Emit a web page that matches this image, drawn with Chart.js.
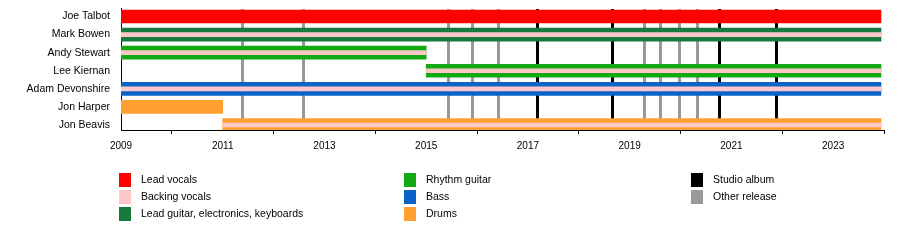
<!DOCTYPE html>
<html>
<head>
<meta charset="utf-8">
<script src="https://cdn.jsdelivr.net/npm/chart.js@4"></script>
<style>
  html, body { margin: 0; padding: 0; background: #fff; }
  canvas { display: block; }
</style>
</head>
<body>
<canvas id="chart" width="900" height="250"></canvas>
<script>
// メンバー（上から順に）
const members = ["Joe Talbot", "Mark Bowen", "Andy Stewart", "Lee Kiernan", "Adam Devonshire", "Jon Harper", "Jon Beavis"];
const endDate = 2023.94;

// 担当期間 [行, 開始, 終了]
const leadVocals = [[0, 2009, endDate]];
const leadGuitar = [[1, 2009, endDate]];
const rhythmGuitar = [[2, 2009, 2015.0], [3, 2015.0, endDate]];
const bass = [[4, 2009, endDate]];
const drums = [[5, 2009, 2011.0], [6, 2011.0, endDate]];
const backingVocals = [[1, 2009, endDate], [2, 2009, 2015.0], [3, 2015.0, endDate], [4, 2009, endDate], [6, 2011.0, endDate]];

// リリース
const studioAlbums = [2017.18, 2018.66, 2020.75, 2021.88];
const otherReleases = [2011.38, 2012.58, 2015.42, 2015.91, 2016.42, 2019.29, 2019.6, 2019.97, 2020.32];

// 軸
const xMin = 2009;
const xMax = 2024;

// 凡例
const legendColumns = [
  [["Lead vocals", "#ff0000"], ["Backing vocals", "#ffc8c8"], ["Lead guitar, electronics, keyboards", "#157a3c"]],
  [["Rhythm guitar", "#12aa12"], ["Bass", "#0a64c8"], ["Drums", "#ffa030"]],
  [["Studio album", "#000000"], ["Other release", "#999999"]],
];

const FONT = '"Liberation Sans", Arial, sans-serif';

function toBars(periods) {
  return periods.map((p) => ({ x: [p[1], p[2]], y: p[0] }));
}

function roleDataset(label, periods, color, thickness, order) {
  return {
    label: label,
    data: toBars(periods),
    backgroundColor: color,
    borderWidth: 0,
    barThickness: thickness,
    grouped: false,
    order: order,
  };
}

// リリースの縦線を描く
const releaseLines = {
  id: "releaseLines",
  beforeDatasetsDraw(chart) {
    const { ctx, chartArea, scales } = chart;
    const x = scales.x;
    ctx.save();
    ctx.lineWidth = 3;
    const drawSet = (list, color) => {
      ctx.strokeStyle = color;
      for (let v of list) {
        const px = Math.round(x.getPixelForValue(v)) + 0.5;
        ctx.beginPath();
        ctx.moveTo(px, chartArea.top + 1);
        ctx.lineTo(px, chartArea.bottom);
        ctx.stroke();
      }
    };
    drawSet(otherReleases, "#999999");
    drawSet(studioAlbums, "#000000");
    ctx.restore();
  },
};

// 凡例を描く
const bottomLegend = {
  id: "bottomLegend",
  afterDraw(chart) {
    const ctx = chart.ctx;
    const colX = [119, 404, 691];
    const rowY = [180, 197, 214];
    ctx.save();
    ctx.font = "10.5px " + FONT;
    ctx.textBaseline = "middle";
    ctx.textAlign = "left";
    for (let c = 0; c < legendColumns.length; c++) {
      const items = legendColumns[c];
      for (let r = 0; r < items.length; r++) {
        const [text, color] = items[r];
        ctx.fillStyle = color;
        ctx.fillRect(colX[c], rowY[r] - 7, 12, 14);
        ctx.fillStyle = "#000";
        ctx.fillText(text, colX[c] + 22, rowY[r]);
      }
    }
    ctx.restore();
  },
};

const ctx = document.getElementById("chart").getContext("2d");
new Chart(ctx, {
  type: "bar",
  data: {
    datasets: [
      roleDataset("Backing vocals", backingVocals, "#ffc8c8", 4, 0),
      roleDataset("Lead vocals", leadVocals, "#ff0000", 13, 1),
      roleDataset("Lead guitar, electronics, keyboards", leadGuitar, "#157a3c", 13, 1),
      roleDataset("Rhythm guitar", rhythmGuitar, "#12aa12", 13, 1),
      roleDataset("Bass", bass, "#0a64c8", 13, 1),
      roleDataset("Drums", drums, "#ffa030", 13, 1),
    ],
  },
  options: {
    indexAxis: "y",
    responsive: false,
    animation: false,
    layout: { padding: { top: 8, right: 16, left: 0, bottom: 0 } },
    plugins: {
      legend: { display: false },
      tooltip: { enabled: false },
    },
    scales: {
      x: {
        type: "linear",
        min: xMin,
        max: xMax,
        afterFit(scale) {
          scale.height = 120;
        },
        grid: {
          drawOnChartArea: false,
          drawTicks: true,
          tickLength: 4,
          color: (c) => (c.tick && c.tick.value % 2 === 0 ? "#000" : "rgba(0,0,0,0)"),
        },
        border: { display: true, color: "#000", width: 1 },
        ticks: {
          stepSize: 1,
          autoSkip: false,
          maxRotation: 0,
          padding: 6,
          color: "#000",
          font: { family: FONT, size: 10 },
          callback: (v) => (v % 2 === 1 ? String(v) : ""),
        },
      },
      y: {
        type: "linear",
        reverse: true,
        offset: false,
        min: -0.47,
        max: 6.278,
        afterFit(scale) {
          scale.width = 121;
          scale.paddingTop = 0;
          scale.paddingBottom = 0;
        },
        afterBuildTicks(scale) {
          scale.ticks = members.map((m, i) => ({ value: i }));
        },
        grid: { display: false, drawTicks: false },
        border: { display: true, color: "#000", width: 1 },
        ticks: {
          padding: 11,
          color: "#000",
          font: { family: FONT, size: 10.5 },
          callback: (v) => members[v],
        },
      },
    },
  },
  plugins: [releaseLines, bottomLegend],
});
</script>
</body>
</html>
